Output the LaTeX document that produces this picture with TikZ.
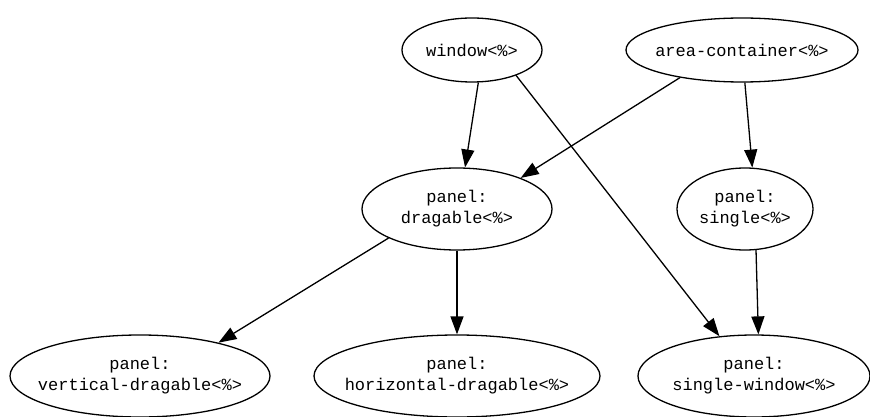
\documentclass[tikz,border=0pt]{standalone}
\usepackage{fontspec}
\setmonofont{Liberation Mono}
\usetikzlibrary{shapes.geometric,arrows.meta}
\begin{document}
\begin{tikzpicture}[x=1pt,y=-1pt,
  nd/.style={draw,ellipse,line width=1.3pt,inner xsep=-80pt,inner ysep=-20pt,align=center,
    font=\ttfamily\fontsize{17}{21}\selectfont},
  arr/.style={line width=1.3pt,-{Triangle[length=18pt,width=13pt]}}]
\useasboundingbox (0,0) rectangle (870,417);
\node[nd,minimum width=140pt,minimum height=64pt] (win) at (472,50) {window<\%>};
\node[nd,minimum width=232pt,minimum height=64pt] (area) at (742,50) {area-container<\%>};
\node[nd,minimum width=190pt,minimum height=82pt] (drag) at (457,209) {panel:\\dragable<\%>};
\node[nd,minimum width=136pt,minimum height=82pt] (single) at (745,209) {panel:\\single<\%>};
\node[nd,minimum width=260pt,minimum height=82pt] (vert) at (140,376) {panel:\\vertical-dragable<\%>};
\node[nd,minimum width=286pt,minimum height=82pt] (hor) at (457,376) {panel:\\horizontal-dragable<\%>};
\node[nd,minimum width=232pt,minimum height=82pt] (sw) at (754,376) {panel:\\single-window<\%>};
\draw[arr] (win.281) -- (drag.79);
\draw[arr] (win.330) -- (sw.131);
\draw[arr] (area.204) -- (drag.26);
\draw[arr] (area.275) -- (single.80);
\draw[arr] (drag.203) -- (vert.23);
\draw[arr] (drag) -- (hor);
\draw[arr] (single.285) -- (sw.84);
\end{tikzpicture}
\end{document}
